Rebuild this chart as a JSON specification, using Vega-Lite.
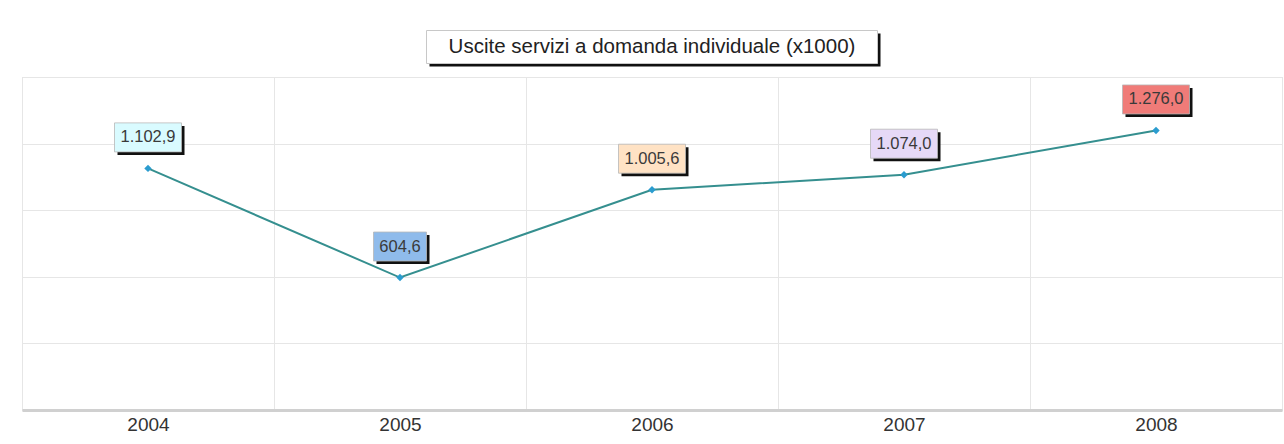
{
  "$schema": "https://vega.github.io/schema/vega-lite/v6.json",
  "width": 1260,
  "height": 333,
  "padding": {"left": 22, "right": 2, "top": 77, "bottom": 34},
  "autosize": {"type": "none"},
  "background": "#ffffff",
  "config": {
    "font": "Liberation Sans",
    "view": {"stroke": "#d6d6d6", "strokeWidth": 1}
  },
  "datasets": {
    "main": [
      {"year": "2004", "value": 1102.9, "label": "1.102,9"},
      {"year": "2005", "value": 604.6, "label": "604,6"},
      {"year": "2006", "value": 1005.6, "label": "1.005,6"},
      {"year": "2007", "value": 1074.0, "label": "1.074,0"},
      {"year": "2008", "value": 1276.0, "label": "1.276,0"}
    ],
    "title": [
      {"year": "2006", "value": 1520, "t": "Uscite servizi a domanda individuale (x1000)"}
    ]
  },
  "data": {"name": "main"},
  "encoding": {
    "x": {
      "field": "year", "type": "ordinal",
      "scale": {"paddingInner": 0, "paddingOuter": 0},
      "axis": {
        "title": null, "tickBand": "extent", "labelAngle": 0, "labelFontSize": 19,
        "labelColor": "#333333", "ticks": false, "domainColor": "#d0d0d0", "domainWidth": 3,
        "gridColor": "#e6e6e6", "labelPadding": 5, "grid": true
      }
    },
    "y": {
      "field": "value", "type": "quantitative",
      "scale": {"domain": [0, 1520], "nice": false, "zero": true},
      "axis": {
        "title": null, "labels": false, "ticks": false, "domain": false,
        "values": [0, 304, 608, 912, 1216, 1520], "gridColor": "#e6e6e6"
      }
    }
  },
  "layer": [
    {"mark": {"type": "line", "color": "#358f8f", "strokeWidth": 2}},
    {"mark": {"type": "point", "shape": "diamond", "filled": true, "color": "#2b9ccf", "size": 55, "opacity": 1}},
    {
      "transform": [{"filter": "length(datum.label) > 5"}],
      "mark": {"type": "rect", "width": 67, "height": 29, "yOffset": -28, "xOffset": 3, "color": "#111111"}
    },
    {
      "transform": [{"filter": "length(datum.label) <= 5"}],
      "mark": {"type": "rect", "width": 53, "height": 29, "yOffset": -28, "xOffset": 3, "color": "#111111"}
    },
    {
      "transform": [{"filter": "length(datum.label) > 5"}],
      "mark": {"type": "rect", "width": 67, "height": 29, "yOffset": -31, "stroke": "#b8b8b8", "strokeWidth": 0.8},
      "encoding": {
        "color": {
          "field": "year", "type": "nominal", "legend": null,
          "scale": {"domain": ["2004", "2005", "2006", "2007", "2008"], "range": ["#d9fbff", "#8fbbeb", "#ffe2c4", "#e6d9f7", "#f07b78"]}
        }
      }
    },
    {
      "transform": [{"filter": "length(datum.label) <= 5"}],
      "mark": {"type": "rect", "width": 53, "height": 29, "yOffset": -31, "stroke": "#b8b8b8", "strokeWidth": 0.8},
      "encoding": {
        "color": {
          "field": "year", "type": "nominal", "legend": null,
          "scale": {"domain": ["2004", "2005", "2006", "2007", "2008"], "range": ["#d9fbff", "#8fbbeb", "#ffe2c4", "#e6d9f7", "#f07b78"]}
        }
      }
    },
    {
      "mark": {"type": "text", "fontSize": 16.5, "color": "#3a3a3a", "yOffset": -31, "baseline": "middle", "align": "center"},
      "encoding": {"text": {"field": "label"}}
    },
    {
      "data": {"name": "title"},
      "mark": {"type": "rect", "width": 451, "height": 33, "yOffset": -27, "xOffset": 3, "color": "#111111", "clip": false}
    },
    {
      "data": {"name": "title"},
      "mark": {"type": "rect", "width": 451, "height": 33, "yOffset": -30, "fill": "#ffffff", "stroke": "#c8c8c8", "strokeWidth": 1, "clip": false}
    },
    {
      "data": {"name": "title"},
      "mark": {"type": "text", "fontSize": 20.5, "color": "#222222", "yOffset": -30, "baseline": "middle", "align": "center"},
      "encoding": {"text": {"field": "t"}}
    }
  ]
}
